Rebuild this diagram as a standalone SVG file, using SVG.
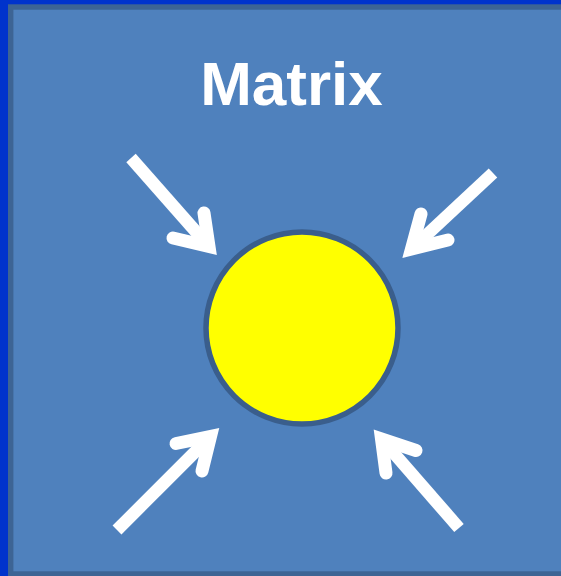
<svg xmlns="http://www.w3.org/2000/svg" width="561" height="576" viewBox="0 0 561 576">
<style>
.shaft{stroke:#ffffff;stroke-width:12.5;stroke-linecap:butt;fill:none}
.head{stroke:#ffffff;stroke-width:13;stroke-linecap:round;stroke-linejoin:miter;stroke-miterlimit:10;fill:none}
.title{font-family:"Liberation Sans",Arial,sans-serif;font-weight:bold;font-size:62px;fill:#ffffff}
</style>
<rect x="0" y="0" width="561" height="576" fill="#0033cc"/>
<g id="panel">
<rect x="10.7" y="7" width="560" height="567" fill="#4f81bd" stroke="#3d6494" stroke-width="5.4"/>
</g>
<g id="title">
<text class="title" x="291.5" y="105" text-anchor="middle">Matrix</text>
</g>
<g id="core">
<circle cx="302" cy="328" r="96" fill="#ffff00" stroke="#3a5e8c" stroke-width="5.5"/>
</g>
<g id="connectors">
<line class="shaft" x1="131" y1="158" x2="209" y2="246.5"/>
<polyline class="head" points="204,213 209,246.5 173,238"/>
<line class="shaft" x1="493" y1="173" x2="411.5" y2="249"/>
<polyline class="head" points="421,214 411.5,249 448,240"/>
<line class="shaft" x1="117" y1="530" x2="210.5" y2="436.5"/>
<polyline class="head" points="176,443.5 210.5,436.5 202,471"/>
<line class="shaft" x1="459" y1="528" x2="381.5" y2="439"/>
<polyline class="head" points="416,450.5 381.5,439 386,473"/>
</g>
</svg>
